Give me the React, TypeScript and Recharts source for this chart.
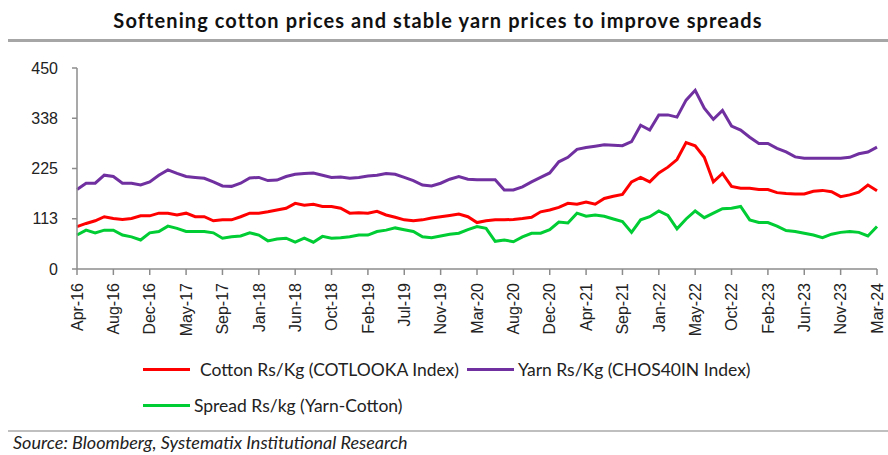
import React from 'react';
import { LineChart, Line, XAxis, YAxis } from 'recharts';

// x-axis labels, one every 4 points
const tickLabels = [
  'Apr-16', 'Aug-16', 'Dec-16', 'May-17', 'Sep-17', 'Jan-18', 'Jun-18', 'Oct-18',
  'Feb-19', 'Jul-19', 'Nov-19', 'Mar-20', 'Aug-20', 'Dec-20', 'Apr-21', 'Sep-21',
  'Jan-22', 'May-22', 'Oct-22', 'Feb-23', 'Jun-23', 'Nov-23', 'Mar-24',
];

const cotton = [
  95, 102, 108, 117, 113, 111, 113, 119, 119, 125, 125, 121, 125, 117, 117, 108,
  110, 110, 117, 125, 125, 128, 132, 136, 147, 143, 145, 140, 140, 136, 125, 126,
  125, 129, 121, 116, 110, 108, 110, 114, 117, 120, 123, 117, 104, 108, 110, 110,
  111, 113, 116, 128, 132, 138, 147, 145, 150, 145, 158, 163, 167, 195, 205, 195,
  215, 228, 245, 283, 276, 250, 195, 214, 185, 181, 181, 178, 178, 171, 169, 168,
  168, 174, 176, 173, 162, 166, 172, 188, 175,
];

const yarn = [
  178, 192, 192, 210, 207, 192, 192, 188, 195, 210, 222, 214, 207, 205, 203, 195,
  186, 185, 192, 204, 205, 198, 199, 207, 212, 214, 215, 210, 205, 206, 203, 205,
  208, 210, 214, 212, 205, 198, 188, 186, 192, 201, 207, 201, 200, 200, 200, 177,
  177, 184, 195, 205, 215, 240, 250, 268, 272, 275, 278, 277, 276, 285, 322, 311,
  345, 345, 340, 378, 400, 360, 335, 355, 320, 311, 295, 281, 281, 270, 262, 251,
  248, 248, 248, 248, 248, 250, 258, 262, 273,
];

const spread = [
  76, 87, 81, 87, 87, 76, 72, 65, 81, 84, 96, 91, 84, 84, 84, 81,
  69, 72, 74, 81, 76, 63, 67, 69, 60, 69, 60, 73, 69, 70, 72, 76,
  76, 84, 87, 92, 88, 84, 72, 70, 74, 78, 80, 88, 95, 91, 62, 65,
  61, 72, 80, 80, 88, 105, 103, 125, 118, 121, 118, 112, 106, 82, 110, 117,
  130, 120, 90, 112, 130, 115, 125, 135, 136, 140, 110, 104, 104, 96, 86, 84,
  80, 76, 70, 78, 82, 84, 82, 74, 95,
];

const yTicks = [0, 112.5, 225, 337.5, 450];

const series = [
  { key: 'cotton', name: 'Cotton Rs/Kg (COTLOOKA Index)', color: '#ff0000' },
  { key: 'yarn', name: 'Yarn Rs/Kg (CHOS40IN Index)', color: '#7030a0' },
  { key: 'spread', name: 'Spread Rs/kg (Yarn-Cotton)', color: '#00cc33' },
];

const data = cotton.map((c, i) => ({ i, cotton: c, yarn: yarn[i], spread: spread[i] }));
const xTicks = tickLabels.map((_, k) => k * 4);

const axisFont = "'Liberation Sans', Arial, sans-serif";
const textFont = "Lato, 'Open Sans', sans-serif";

const XTick = (props: any) => {
  const { x, y, payload } = props;
  return (
    <g transform={`translate(${x},${y})`}>
      <text transform="rotate(-90)" textAnchor="end" dy="0.36em" fontSize={16} fill="#222" fontFamily={axisFont}>
        {tickLabels[payload.value / 4]}
      </text>
    </g>
  );
};

const LegendItem = ({ s, left, top, gap }: any) => (
  <div style={{ position: 'absolute', left, top, display: 'flex', alignItems: 'center' }}>
    <div style={{ width: 47, height: 3, background: s.color, marginRight: gap }} />
    <span style={{ fontFamily: textFont, fontSize: 17.5, color: '#222', whiteSpace: 'nowrap' }}>{s.name}</span>
  </div>
);

export default function App() {
  return (
    <div style={{ position: 'absolute', left: 0, top: 0, width: 888, height: 455, background: '#fff', overflow: 'hidden' }}>
      <div style={{ position: 'absolute', left: 0, width: 876, top: 8, textAlign: 'center', fontFamily: textFont, fontWeight: 700, fontSize: 20, letterSpacing: 1.1, color: '#111' }}>
        Softening cotton prices and stable yarn prices to improve spreads
      </div>
      <div style={{ position: 'absolute', left: 8, right: 0, top: 39, height: 3, background: '#a6a6a6' }} />

      <div style={{ position: 'absolute', left: 0, top: 0 }}>
        <LineChart width={888} height={345} data={data} margin={{ top: 68, right: 11, left: 0, bottom: 6 }}>
          <XAxis
            dataKey="i"
            type="number"
            domain={[0, 88]}
            ticks={xTicks}
            interval={0}
            tick={<XTick />}
            tickSize={6}
            tickMargin={8}
            height={70}
            stroke="#8c8c8c"
            strokeWidth={1.5}
          />
          <YAxis
            domain={[0, 450]}
            ticks={yTicks}
            interval={0}
            tickFormatter={(v: number) => String(Math.round(v))}
            width={77}
            tickSize={5}
            tickMargin={14}
            stroke="#8c8c8c"
            strokeWidth={1.5}
            tick={{ fontSize: 16, fill: '#222', fontFamily: axisFont }}
          />
          {series.map((s) => (
            <Line
              key={s.key}
              dataKey={s.key}
              name={s.name}
              stroke={s.color}
              strokeWidth={3}
              dot={false}
              type="linear"
              isAnimationActive={false}
            />
          ))}
        </LineChart>
      </div>

      <LegendItem s={series[0]} left={143} top={359} gap={10} />
      <LegendItem s={series[1]} left={467} top={359} gap={4} />
      <LegendItem s={series[2]} left={143} top={395} gap={4} />

      <div style={{ position: 'absolute', left: 8, right: 0, top: 430, height: 2, background: '#bfbfbf' }} />
      <div style={{ position: 'absolute', left: 13, top: 432, lineHeight: '21px', fontFamily: textFont, fontStyle: 'italic', fontSize: 18, color: '#222', whiteSpace: 'nowrap' }}>
        Source: Bloomberg, Systematix Institutional Research
      </div>
    </div>
  );
}
